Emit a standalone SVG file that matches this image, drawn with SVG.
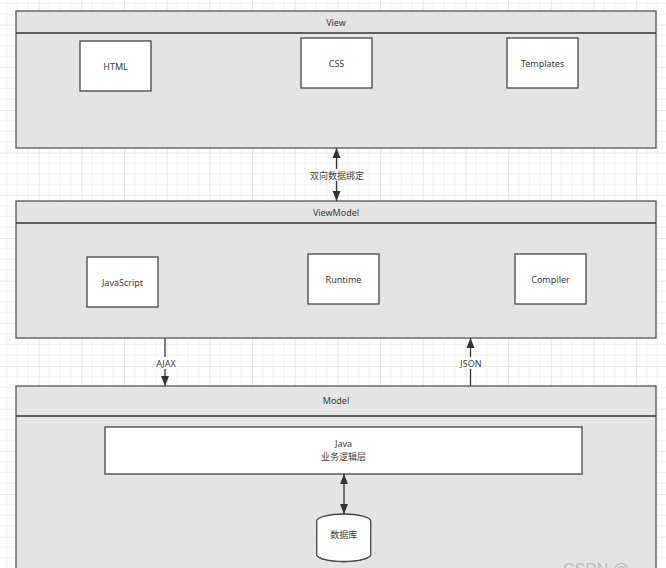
<svg xmlns="http://www.w3.org/2000/svg" width="666" height="568" viewBox="0 0 666 568">
<defs>
<pattern id="grid" patternUnits="userSpaceOnUse" x="38.7" y="24.6" width="42.67" height="42.67">
<rect width="42.67" height="42.67" fill="#ffffff"/>
<path d="M10.67 0V42.67M21.33 0V42.67M32 0V42.67M0 10.67H42.67M0 21.33H42.67M0 32H42.67" stroke="#f1f1f1" stroke-width="1"/>
<path d="M0.5 0V42.67M0 0.5H42.67" stroke="#e6e6e6" stroke-width="1"/>
</pattern>
<marker id="ah" viewBox="0 0 10 10" refX="10" refY="5" markerWidth="10" markerHeight="10" markerUnits="userSpaceOnUse" orient="auto-start-reverse">
<path d="M0 1 L10 5 L0 9 Z" fill="#333"/>
</marker>
<style>
.cont{fill:#e4e4e4;stroke:#555;stroke-width:1.3}
.box{fill:#fff;stroke:#444;stroke-width:1.3}
.t{font-family:"Noto Sans","Noto Sans CJK SC",sans-serif;font-size:9px;fill:#3a3a3a;text-anchor:middle;dominant-baseline:central}
.ln{stroke:#333;stroke-width:1.3;fill:none}
.lbg{fill:#ffffff}
</style>
</defs>
<rect width="666" height="568" fill="url(#grid)"/>

<g id="view">
<rect class="cont" x="16" y="11" width="640" height="137"/>
<line class="ln" x1="16" y1="33" x2="656" y2="33" stroke="#555"/>
<text class="t" x="336" y="22">View</text>
</g>
<g id="html"><rect class="box" x="80" y="41" width="71" height="50"/><text class="t" x="115.5" y="66">HTML</text></g>
<g id="css"><rect class="box" x="301" y="38" width="71" height="50"/><text class="t" x="336.5" y="63">CSS</text></g>
<g id="templates"><rect class="box" x="507" y="38" width="71" height="50"/><text class="t" x="542.5" y="63">Templates</text></g>

<g id="viewmodel">
<rect class="cont" x="16" y="201" width="640" height="137"/>
<line class="ln" x1="16" y1="223" x2="656" y2="223" stroke="#555"/>
<text class="t" x="336" y="212">ViewModel</text>
</g>
<g id="javascript"><rect class="box" x="87" y="257" width="71" height="50"/><text class="t" x="122.5" y="282">JavaScript</text></g>
<g id="runtime"><rect class="box" x="308" y="254" width="71" height="50"/><text class="t" x="343.5" y="279">Runtime</text></g>
<g id="compiler"><rect class="box" x="515" y="254" width="71" height="50"/><text class="t" x="550.5" y="279">Compiler</text></g>

<g id="model">
<rect class="cont" x="16" y="386" width="640" height="200"/>
<line class="ln" x1="16" y1="416" x2="656" y2="416" stroke="#555"/>
<text class="t" x="336" y="400">Model</text>
</g>
<g id="java"><rect class="box" x="105" y="427" width="477" height="47"/><text class="t" x="343.5" y="443.5">Java</text><text class="t" x="343.5" y="456.5">业务逻辑层</text></g>
<g id="db">
<path class="box" d="M316.7 521 A27 7 0 0 1 370.7 521 V554.5 A27 7 0 0 1 316.7 554.5 Z"/>
<path class="box" d="M316.7 554.5 A27 7 0 0 0 370.7 554.5" fill="none"/>
<text class="t" x="343.7" y="534">数据库</text>
</g>

<g id="connectors">
<line class="ln" x1="336.5" y1="148" x2="336.5" y2="201" marker-start="url(#ah)" marker-end="url(#ah)"/>
<rect class="lbg" x="308" y="169" width="58" height="12"/>
<text class="t" x="337" y="175">双向数据绑定</text>
<line class="ln" x1="165" y1="338" x2="165" y2="386" marker-end="url(#ah)"/>
<rect class="lbg" x="153" y="357" width="25" height="12"/>
<text class="t" x="166" y="363">AJAX</text>
<line class="ln" x1="470.5" y1="386" x2="470.5" y2="338" marker-end="url(#ah)"/>
<rect class="lbg" x="458" y="357" width="25" height="12"/>
<text class="t" x="471" y="363">JSON</text>
<line class="ln" x1="344" y1="474" x2="344" y2="514" marker-start="url(#ah)" marker-end="url(#ah)"/>
</g>
<text x="563" y="575" font-family="Liberation Sans, sans-serif" font-size="16" fill="#bbb">CSDN @</text>
</svg>
